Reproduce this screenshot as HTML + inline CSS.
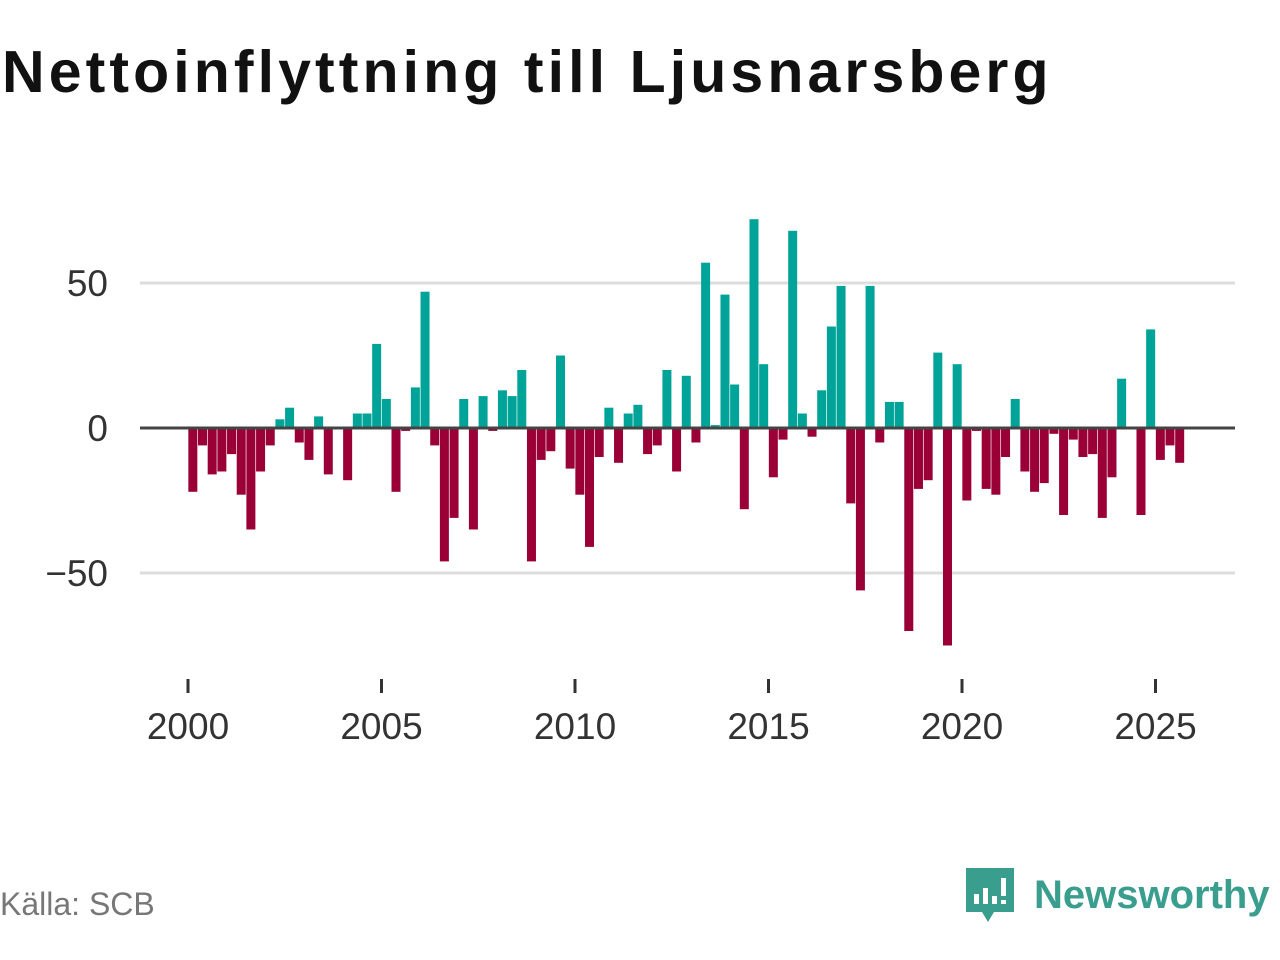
<!DOCTYPE html>
<html><head><meta charset="utf-8">
<style>
body{margin:0;background:#fff;width:1280px;height:960px;overflow:hidden;font-family:"Liberation Sans","DejaVu Sans",sans-serif;}
#title{position:absolute;left:2px;top:38px;font-size:59px;font-weight:bold;color:#111;letter-spacing:4.1px}
#src{position:absolute;left:0;top:886px;font-size:32px;color:#777}
#logo{position:absolute;left:964px;top:864px;display:flex;align-items:center}
#logo span{font-size:40px;font-weight:bold;color:#3a9e8f;margin-left:18px}
</style></head><body>
<div id="title">Nettoinflyttning till Ljusnarsberg</div>
<svg id="chart" width="1280" height="960" style="position:absolute;left:0;top:0"></svg>
<div id="src">Källa: SCB</div>
<div id="logo">
<svg width="52" height="62" viewBox="0 0 52 62"><path d="M2 4h48v44H30l-6 10-6-10H2z" fill="#3a9e8f"/><rect x="10" y="30" width="5" height="10" fill="#fff"/><rect x="19" y="24" width="5" height="16" fill="#fff"/><rect x="28" y="32" width="5" height="8" fill="#fff"/><rect x="37" y="14" width="5" height="18" fill="#fff"/><rect x="37" y="36" width="5" height="4" fill="#fff"/></svg>
<span>Newsworthy</span></div>
<script>
const startYear = 2000;
const values = [-22,-6,-16,-15,-9,-23,-35,-15,-6,3,7,-5,-11,4,-16,0,-18,5,5,29,10,-22,-1,14,47,-6,-46,-31,10,-35,11,-1,13,11,20,-46,-11,-8,25,-14,-23,-41,-10,7,-12,5,8,-9,-6,20,-15,18,-5,57,1,46,15,-28,72,22,-17,-4,68,5,-3,13,35,49,-26,-56,49,-5,9,9,-70,-21,-18,26,-75,22,-25,-1,-21,-23,-10,10,-15,-22,-19,-2,-30,-4,-10,-9,-31,-17,17,0,-30,34,-11,-6,-12];
const yTicks = [-50,0,50];
const xTicks = [2000,2005,2010,2015,2020,2025];
const NS="http://www.w3.org/2000/svg";
const svg=document.getElementById('chart');
const x=t=>188+(t-startYear)*38.7;
const y=v=>428-v*2.9;
function mk(tag,attrs){const e=document.createElementNS(NS,tag);for(const k in attrs)e.setAttribute(k,attrs[k]);svg.appendChild(e);return e;}
yTicks.forEach(v=>{
 if(v!==0){const g=mk('line',{x1:140,x2:1235,y1:y(v),y2:y(v),stroke:'#ddd','stroke-width':3});
 
 }
 const t=mk('text',{x:108,y:y(v)+13,'text-anchor':'end','font-size':37,fill:'#333','font-family':'Liberation Sans, sans-serif'});
 t.textContent=v<0?'−'+Math.abs(v):String(v);
 
 
});
values.forEach((v,i)=>{
 const cx=x(startYear+(i+0.5)/4);
 const r=mk('rect',{x:cx-4.5,width:9,y:Math.min(y(v),y(0)),height:Math.abs(y(v)-y(0)),fill:v>=0?'#00a398':'#9a0036'});
 
 
});
const z=mk('line',{x1:140,x2:1235,y1:y(0),y2:y(0),stroke:'#444','stroke-width':3});


xTicks.forEach(t=>{
 const l=mk('line',{x1:x(t),x2:x(t),y1:679,y2:693,stroke:'#333','stroke-width':3});
 
 
 const tx=mk('text',{x:x(t),y:739,'text-anchor':'middle','font-size':37,fill:'#333','font-family':'Liberation Sans, sans-serif'});
 tx.textContent=t;
 
 
});
</script>
</body></html>
